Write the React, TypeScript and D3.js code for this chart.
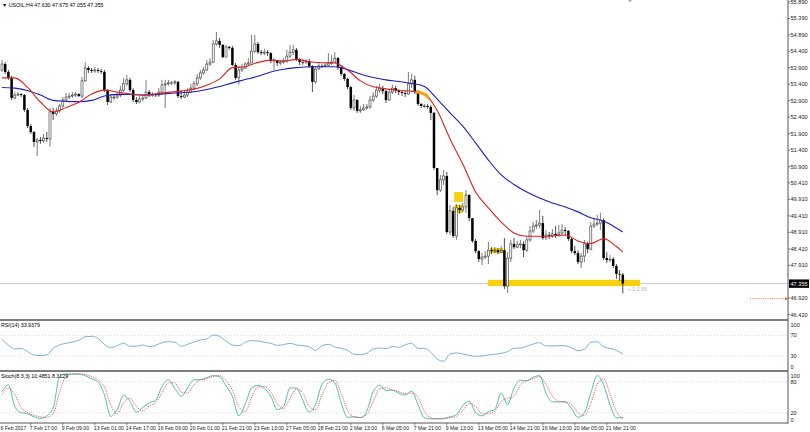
import React from "react";
import * as d3 from "d3";

// ---------- DATA ----------
const symbolTitle = "▼ USOIL,H4  47.630 47.675 47.055 47.355";
const firstOpen = 53.83;
const closes = [
  54.01, 53.77, 53.59, 52.98, 53.07, 53.10, 53.07, 52.62, 52.13, 51.95,
  51.65, 51.71, 51.68, 51.77, 51.74, 52.56, 52.50, 52.59, 52.74, 52.92,
  53.01, 53.04, 53.07, 53.10, 53.04, 53.50, 53.89, 53.83, 53.80, 53.83,
  53.80, 53.77, 53.22, 52.86, 53.01, 53.01, 53.07, 53.22, 53.41, 53.53,
  53.22, 52.92, 52.86, 52.95, 52.98, 53.16, 53.07, 53.10, 53.07, 53.16,
  53.38, 53.41, 53.44, 53.44, 53.47, 53.04, 53.01, 53.07, 53.16, 53.28,
  53.41, 53.59, 53.74, 53.83, 54.01, 54.07, 54.62, 54.71, 54.59, 54.22,
  54.53, 54.50, 53.98, 53.59, 53.83, 53.89, 54.01, 54.04, 54.40, 54.62,
  54.37, 54.34, 54.37, 54.34, 54.10, 54.13, 54.04, 54.07, 54.10, 54.25,
  54.37, 54.44, 54.16, 54.07, 54.07, 54.10, 53.95, 53.47, 53.86, 53.95,
  53.95, 53.98, 54.04, 54.07, 54.19, 53.92, 53.71, 53.56, 53.31, 52.68,
  52.92, 52.59, 52.62, 52.68, 52.71, 52.92, 53.04, 53.22, 53.28, 53.19,
  52.92, 53.16, 53.28, 53.22, 53.16, 53.13, 53.10, 53.41, 53.53, 53.16,
  52.80, 52.74, 52.74, 52.71, 52.53, 50.86, 50.19, 50.50, 50.62, 48.92,
  49.56, 48.80, 49.65, 49.59, 49.68, 50.04, 49.34, 48.65, 48.34, 48.10,
  48.16, 48.19, 48.37, 48.34, 48.37, 48.31, 48.37, 47.28, 48.13, 48.56,
  48.46, 48.53, 48.56, 48.37, 48.68, 48.95, 49.10, 49.13, 49.19, 48.74,
  48.83, 48.80, 48.86, 48.83, 48.89, 48.98, 48.95, 48.71, 48.34, 48.28,
  48.01, 48.19, 48.56, 48.40, 49.10, 49.16, 49.19, 49.28, 48.13, 48.07,
  48.10, 47.89, 47.65, 47.63, 47.355,
];
const highs = [
  54.13, 54.07, 53.83, 53.65, 53.16, 53.16, 53.13, 53.10, 52.68, 52.19,
  51.98, 51.77, 51.80, 51.89, 51.95, 52.68, 52.68, 52.68, 52.80, 53.01,
  53.13, 53.13, 53.16, 53.16, 53.13, 53.62, 54.07, 53.95, 53.89, 53.92,
  53.89, 53.86, 53.83, 53.25, 53.10, 53.10, 53.13, 53.35, 53.59, 53.68,
  53.59, 53.28, 53.01, 53.04, 53.07, 53.53, 53.22, 53.16, 53.13, 53.28,
  53.53, 53.53, 53.53, 53.50, 53.53, 53.50, 53.22, 53.22, 53.28, 53.41,
  53.50, 53.71, 53.83, 53.92, 54.13, 54.19, 54.74, 54.98, 54.80, 54.62,
  54.59, 54.56, 54.56, 54.04, 53.95, 54.01, 54.07, 54.19, 54.89, 54.89,
  54.68, 54.44, 54.47, 54.44, 54.37, 54.19, 54.13, 54.13, 54.19, 54.44,
  54.59, 54.59, 54.50, 54.19, 54.16, 54.16, 54.16, 53.98, 53.95, 54.04,
  54.01, 54.04, 54.34, 54.28, 54.37, 54.22, 53.95, 53.74, 53.59, 53.35,
  53.07, 52.95, 52.74, 52.80, 52.80, 53.04, 53.16, 53.35, 53.41, 53.35,
  53.25, 53.25, 53.38, 53.35, 53.25, 53.22, 53.22, 53.77, 53.71, 53.65,
  53.22, 52.83, 52.80, 52.80, 52.77, 52.56, 50.86, 50.65, 50.80, 50.74,
  49.74, 49.68, 49.77, 49.74, 49.80, 50.19, 50.07, 49.34, 48.71, 48.37,
  48.28, 48.34, 48.62, 48.46, 48.46, 48.43, 48.50, 48.74, 48.31, 48.68,
  48.74, 48.65, 48.68, 48.65, 48.80, 49.10, 49.22, 49.28, 49.59, 49.41,
  48.98, 48.92, 49.01, 49.10, 49.13, 49.16, 49.07, 48.98, 48.74, 48.50,
  48.37, 48.28, 48.68, 48.62, 49.22, 49.34, 49.44, 49.50, 49.34, 48.31,
  48.22, 48.16, 47.95, 47.77, 47.675,
];
const lows = [
  53.77, 53.71, 53.53, 52.92, 52.95, 53.04, 53.01, 52.56, 52.07, 51.89,
  51.50, 51.22, 51.59, 51.62, 51.65, 51.50, 52.31, 52.44, 52.53, 52.68,
  52.89, 52.95, 52.98, 53.01, 53.01, 52.98, 53.47, 53.74, 53.74, 53.74,
  53.74, 53.71, 53.16, 52.77, 52.83, 52.92, 52.95, 53.01, 53.16, 53.35,
  53.16, 52.86, 52.80, 52.83, 52.89, 52.95, 53.01, 53.01, 53.01, 53.01,
  53.07, 52.68, 53.35, 53.38, 53.38, 52.98, 52.95, 52.98, 53.01, 53.13,
  53.22, 53.35, 53.53, 53.68, 53.80, 53.95, 54.04, 54.56, 54.50, 54.19,
  54.22, 54.44, 53.95, 53.53, 53.38, 53.77, 53.86, 53.95, 54.04, 54.34,
  54.31, 54.28, 54.28, 54.25, 54.04, 53.83, 53.95, 53.98, 54.01, 54.04,
  54.19, 54.28, 54.10, 53.98, 53.98, 54.01, 53.89, 53.16, 53.41, 53.83,
  53.89, 53.92, 53.95, 53.98, 54.04, 53.83, 53.65, 53.50, 53.25, 52.62,
  52.59, 52.53, 52.53, 52.59, 52.62, 52.65, 52.86, 52.98, 53.13, 53.10,
  52.83, 52.89, 53.10, 53.13, 53.07, 53.04, 53.01, 53.07, 53.28, 53.10,
  52.74, 52.68, 52.68, 52.65, 52.31, 50.80, 50.04, 50.13, 50.34, 48.86,
  48.83, 48.74, 48.68, 49.47, 49.53, 49.50, 49.25, 48.59, 48.28, 48.01,
  47.92, 48.10, 47.95, 48.25, 48.28, 48.25, 48.28, 47.19, 47.07, 48.01,
  48.40, 48.43, 48.43, 48.16, 48.31, 48.62, 48.89, 49.01, 49.04, 48.68,
  48.68, 48.71, 48.74, 48.74, 48.77, 48.80, 48.80, 48.65, 48.28, 48.22,
  47.95, 47.83, 48.01, 48.28, 48.37, 49.04, 49.10, 48.98, 48.07, 47.98,
  48.01, 47.83, 47.50, 47.44, 47.055,
];

// moving averages, one value every 4 bars (last value on the last bar)
const maStep = 4;
const redMA = [
  53.59, 53.59, 53.30, 52.86, 52.56, 52.69, 52.85, 53.10, 53.22, 53.16,
  53.10, 53.07, 53.10, 53.15, 53.19, 53.25, 53.37, 53.56, 53.90, 53.93,
  54.06, 54.13, 54.10, 54.15, 54.08, 54.05, 54.04, 53.83, 53.50, 53.32,
  53.26, 53.21, 53.19, 53.10, 52.60, 51.74, 50.98, 50.13, 49.65, 49.22,
  48.89, 48.79, 48.79, 48.80, 48.83, 48.65, 48.57, 48.72, 48.48, 48.32,
];
const blueMA = [
  53.30, 53.28, 53.21, 53.07, 52.91, 52.88, 52.87, 52.91, 53.04, 53.09,
  53.09, 53.07, 53.08, 53.12, 53.14, 53.17, 53.24, 53.33, 53.44, 53.54,
  53.64, 53.77, 53.85, 53.90, 53.93, 53.93, 53.93, 53.84, 53.71, 53.60,
  53.53, 53.48, 53.42, 53.33, 52.95, 52.53, 52.13, 51.62, 51.10, 50.65,
  50.36, 50.13, 49.95, 49.80, 49.68, 49.53, 49.35, 49.25, 49.04, 48.92,
];
const orangeSpan = [129.5, 133.5];

// oscillators, one value every 2 bars
const oscStep = 2;
const rsi = [
  62.5, 51.5, 43.8, 45, 38.5, 32, 31, 32, 45, 51.5,
  54.8, 57.2, 60.5, 67.6, 68.3, 64.4, 52.8, 46.3, 50.1, 54.8,
  49, 49, 51.5, 48.2, 50.8, 56, 57.9, 57.2, 49, 52.8,
  57.2, 61.2, 63.1, 70.9, 68.3, 59.2, 51.5, 50.1, 56.6, 59.9,
  59.2, 56.6, 54.8, 50.8, 52.1, 54.8, 51.5, 50.1, 48, 41,
  50.1, 52.8, 47.6, 45, 41.1, 33.4, 32.7, 35.3, 43.8, 45.6,
  44.3, 48.2, 46.9, 52, 54.8, 45, 45, 37.2, 24.3, 20,
  34, 36, 34, 31.4, 29.5, 30.1, 32, 33.4, 35.3, 38.5,
  45, 45.6, 49, 53.4, 56, 49.6, 49.6, 50.1, 50.1, 45.6,
  40.4, 43, 56.6, 57.9, 47.6, 45, 41.1, 33.9,
];
const stochMain = [
  61, 74, 32, 20, 18, 12, 9, 14, 29, 90,
  95, 95, 95, 92, 86, 80, 55, 13, 26, 54,
  42, 21, 30, 39, 44, 71, 84, 67, 52, 68,
  84, 84, 88, 92, 90, 72, 52, 14, 36, 68,
  73, 67, 52, 26, 32, 68, 68, 44, 21, 36,
  75, 85, 78, 39, 11, 12, 10, 23, 61, 73,
  63, 64, 58, 54, 62, 36, 10, 8, 8, 9,
  12, 16, 34, 42, 20, 14, 22, 26, 58, 36,
  68, 83, 82, 89, 92, 58, 41, 41, 41, 28,
  11, 20, 58, 92, 74, 36, 10, 10.5,
];
const stochSignal = [
  55, 68, 55, 30, 20, 15, 12, 11, 18, 60,
  90, 95, 95, 94, 90, 84, 70, 35, 18, 40,
  48, 32, 24, 33, 40, 58, 78, 78, 60, 58,
  74, 84, 86, 90, 92, 82, 64, 32, 22, 50,
  70, 71, 60, 38, 28, 48, 66, 58, 32, 26,
  55, 78, 83, 58, 24, 12, 11, 16, 42, 66,
  68, 64, 61, 57, 58, 50, 22, 10, 8, 8,
  10, 13, 24, 38, 32, 18, 18, 23, 42, 48,
  52, 74, 82, 86, 90, 75, 52, 42, 41, 36,
  20, 14, 38, 75, 86, 56, 22, 8.3,
];

const dateLabels = [
  "6 Feb 2017", "7 Feb 17:00", "9 Feb 09:00", "13 Feb 01:00", "14 Feb 17:00",
  "16 Feb 09:00", "20 Feb 01:00", "21 Feb 21:00", "23 Feb 13:00", "27 Feb 05:00",
  "28 Feb 21:00", "2 Mar 13:00", "6 Mar 05:00", "7 Mar 21:00", "9 Mar 13:00",
  "13 Mar 05:00", "14 Mar 21:00", "16 Mar 13:00", "20 Mar 05:00", "21 Mar 21:00",
];
const dateLabelStep = 10;
const dateLabelFirstBar = -1;
const priceTicks = [
  55.89, 55.39, 54.89, 54.4, 53.9, 53.4, 52.9, 52.4, 51.9, 51.4,
  50.9, 50.41, 49.91, 49.41, 48.91, 48.41, 47.91, 46.92, 46.42,
];
const currentPrice = 47.355;
const pendingLevel = 46.9;
const timerText = "» 1:2:39";
const rsiTicks = [100, 70, 30, 0];
const rsiLevels = [70, 30];
const stochTicks = [100, 80, 20, 0];
const stochLevels = [80, 20];
const rsiTitle = "RSI(14) 33.9379";
const stochTitle = "Stoch(8,3,3) 10.4851 8.3129";

// highlighted zones: [fromBar, toBar, topPrice, bottomPrice]
const zones = [
  [141.3, 144.1, 50.13, 49.83],
  [141.3, 144.1, 49.74, 49.5],
  [152.5, 156.6, 48.43, 48.28],
  [151.9, 199.4, 47.47, 47.28],
];

// ---------- CHART ----------
const W = 810;
const H = 432;
const AXIS_X = 788;
const FONT = "'Liberation Sans', Arial, sans-serif";

export default function App() {
  const lastBar = closes.length - 1;
  const x = d3.scaleLinear().domain([0, lastBar]).range([2, 2 + lastBar * 3.2]);
  const y = d3.scaleLinear().domain([46.42, 55.89]).range([314.5, 2]);
  const yR = d3.scaleLinear().domain([0, 100]).range([371.5, 320]);
  const yS = d3.scaleLinear().domain([0, 100]).range([423, 371.5]);

  const bars = closes.map((c, i) => {
    const o = i === 0 ? firstOpen : closes[i - 1];
    return { i, o, c, h: Math.max(highs[i], o, c), l: Math.min(lows[i], o, c) };
  });

  const maBar = (i: number) => Math.min(i * maStep, lastBar);
  const maLine = d3
    .line<number>()
    .x((_, i) => x(maBar(i)))
    .y((d) => y(d))
    .curve(d3.curveMonotoneX);
  const oscBar = (i: number) => Math.min(i * oscStep, lastBar);
  const rsiLine = d3
    .line<number>()
    .x((_, i) => x(oscBar(i)))
    .y((d) => yR(d))
    .curve(d3.curveMonotoneX);
  const stLine = d3
    .line<number>()
    .x((_, i) => x(oscBar(i)))
    .y((d) => yS(d))
    .curve(d3.curveMonotoneX);

  const redPath = maLine(redMA) || "";

  return (
    <svg
      width={W}
      height={H}
      style={{ position: "absolute", left: 0, top: 0, background: "#fff" }}
      fontFamily={FONT}
    >
      <defs>
        <clipPath id="mainClip">
          <rect x={0} y={0} width={AXIS_X} height={319} />
        </clipPath>
        <clipPath id="orangeClip">
          <rect
            x={x(orangeSpan[0])}
            y={0}
            width={x(orangeSpan[1]) - x(orangeSpan[0])}
            height={319}
          />
        </clipPath>
      </defs>

      {/* title */}
      <text x={2} y={6.5} fontSize={5.3} fill="#000">
        {symbolTitle}
      </text>
      <polygon points="628,0 632,0 630,2.5" fill="#aaa" />

      <g clipPath="url(#mainClip)">
        {/* current price line */}
        <line x1={0} x2={AXIS_X} y1={y(currentPrice)} y2={y(currentPrice)} stroke="#c8c8c8" strokeWidth={1} />
        {/* highlight zones */}
        {zones.map((z, i) => (
          <rect
            key={i}
            x={x(z[0])}
            width={x(z[1]) - x(z[0])}
            y={y(z[2])}
            height={y(z[3]) - y(z[2])}
            fill="#f8d00c"
          />
        ))}
        {/* candles */}
        {bars.map((b) => {
          const cx = x(b.i);
          const bull = b.c >= b.o;
          const top = y(Math.max(b.o, b.c));
          const bot = y(Math.min(b.o, b.c));
          const hgt = Math.max(bot - top, 0.8);
          return (
            <g key={b.i}>
              <line x1={cx} x2={cx} y1={y(b.h)} y2={y(b.l)} stroke={bull ? "#444" : "#000"} strokeWidth={0.7} />
              {bull ? (
                <rect x={cx - 1} y={top} width={2} height={hgt} fill="#fff" stroke="#333" strokeWidth={0.6} />
              ) : (
                <rect x={cx - 1.25} y={top} width={2.5} height={hgt} fill="#000" />
              )}
            </g>
          );
        })}
        {/* moving averages */}
        <path d={maLine(blueMA) || ""} fill="none" stroke="#1c1cc8" strokeWidth={1.1} />
        <path d={redPath} fill="none" stroke="#dd1f1f" strokeWidth={1.1} />
        <path d={redPath} fill="none" stroke="#f5a000" strokeWidth={3} clipPath="url(#orangeClip)" />
      </g>

      {/* timer text */}
      <text x={x(lastBar) + 5} y={291} fontSize={5.3} fill="#b4b4b4">
        {timerText}
      </text>

      {/* pending level on the right */}
      <line x1={750} x2={786} y1={y(pendingLevel)} y2={y(pendingLevel)} stroke="#e2541b" strokeWidth={0.8} strokeDasharray="1,1.2" />
      <polygon
        points={`785,${y(pendingLevel) - 1.5} 788,${y(pendingLevel)} 785,${y(pendingLevel) + 1.5}`}
        fill="#e2541b"
      />

      {/* price axis */}
      {priceTicks.map((p) => (
        <g key={p}>
          <line x1={AXIS_X} x2={AXIS_X + 2} y1={y(p)} y2={y(p)} stroke="#555" strokeWidth={0.8} />
          <text x={AXIS_X + 2.5} y={y(p) + 2} fontSize={5.6} fill="#222">
            {p.toFixed(3)}
          </text>
        </g>
      ))}
      <rect x={AXIS_X + 1} y={y(currentPrice) - 4.2} width={20} height={8.4} fill="#000" />
      <text x={AXIS_X + 2.5} y={y(currentPrice) + 2} fontSize={5.6} fill="#fff">
        {currentPrice.toFixed(3)}
      </text>

      {/* RSI panel */}
      {rsiLevels.map((v) => (
        <line key={v} x1={0} x2={AXIS_X} y1={yR(v)} y2={yR(v)} stroke="#c8c8c8" strokeWidth={0.7} strokeDasharray="1,2" />
      ))}
      <path d={rsiLine(rsi) || ""} fill="none" stroke="#6ea6d6" strokeWidth={0.9} />
      <text x={1} y={326.5} fontSize={5.3} fill="#000">
        {rsiTitle}
      </text>
      {rsiTicks.map((v) => (
        <text key={v} x={AXIS_X + 2.5} y={Math.min(Math.max(yR(v), 325), 367) + 2} fontSize={5.6} fill="#222">
          {v}
        </text>
      ))}

      {/* Stochastic panel */}
      {stochLevels.map((v) => (
        <line key={v} x1={0} x2={AXIS_X} y1={yS(v)} y2={yS(v)} stroke="#c8c8c8" strokeWidth={0.7} strokeDasharray="1,2" />
      ))}
      <path d={stLine(stochMain) || ""} fill="none" stroke="#3fb5a3" strokeWidth={0.9} />
      <path d={stLine(stochSignal) || ""} fill="none" stroke="#e03030" strokeWidth={0.8} strokeDasharray="1.2,1.2" />
      <text x={1} y={377.5} fontSize={5.3} fill="#000">
        {stochTitle}
      </text>
      {stochTicks.map((v) => (
        <text key={v} x={AXIS_X + 2.5} y={Math.min(Math.max(yS(v), 375.5), 419.5) + 2} fontSize={5.6} fill="#222">
          {v}
        </text>
      ))}

      {/* frame lines */}
      <line x1={0} x2={AXIS_X} y1={320} y2={320} stroke="#555" strokeWidth={1.6} />
      <line x1={0} x2={AXIS_X} y1={371} y2={371} stroke="#555" strokeWidth={1.6} />
      <line x1={0} x2={AXIS_X} y1={423} y2={423} stroke="#555" strokeWidth={1} />
      <line x1={AXIS_X} x2={AXIS_X} y1={0} y2={423.5} stroke="#555" strokeWidth={1} />

      {/* time axis */}
      {dateLabels.map((t, j) => {
        const bx = x(dateLabelFirstBar + j * dateLabelStep);
        return (
          <g key={t}>
            <line x1={bx} x2={bx} y1={423} y2={425.5} stroke="#555" strokeWidth={0.7} />
            <text x={Math.max(bx - 1, 0.5)} y={429.5} fontSize={5.1} fill="#222">
              {t}
            </text>
          </g>
        );
      })}
    </svg>
  );
}
